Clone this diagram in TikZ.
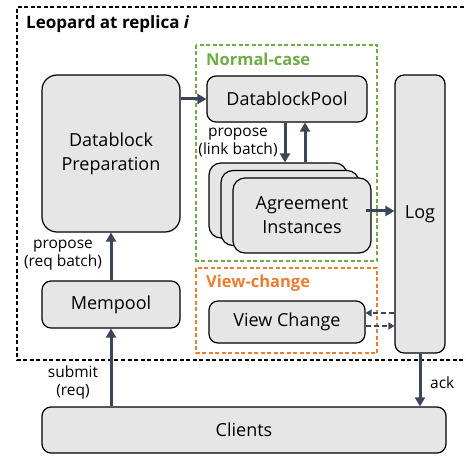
\documentclass[tikz,border=0pt]{standalone}
\usepackage{fontspec}
\setmainfont{Open Sans}
\setsansfont{Open Sans}
\usetikzlibrary{arrows.meta,calc}
\definecolor{boxfill}{HTML}{E6E6E6}
\definecolor{arr}{HTML}{3A4558}
\definecolor{grn}{HTML}{70AD47}
\definecolor{org}{HTML}{ED7D31}
\begin{document}
\begin{tikzpicture}[x=1pt,y=-1pt,
  box/.style={draw=black,line width=1.2pt,fill=boxfill,rounded corners=9pt,inner sep=0pt,align=center,font=\fontsize{18}{24}\selectfont},
  flow/.style={draw=arr,line width=3pt,-{Triangle[length=9pt,width=10pt]}},
  dflow/.style={draw=arr,line width=2pt,dashed,dash pattern=on 5pt off 3pt,-{Triangle[length=6pt,width=7pt]}},
  lbl/.style={font=\fontsize{15.5}{18}\selectfont,align=center,inner sep=0pt},
  grp/.style={line width=1.3pt,dash pattern=on 4pt off 2.5pt}]
\useasboundingbox (0,0) rectangle (466,457);
% outer dashed region
\draw[line width=1.3pt,dash pattern=on 4pt off 2.5pt] (470,7) -- (17,7) -- (17,360) -- (470,360);
\node[anchor=west,inner sep=0pt,font=\fontsize{17}{20}\selectfont\bfseries] (title) at (26,24) {Leopard at replica \textit{i}};
% groups
\draw[grp,draw=grn] (196,45) rectangle (377,261);
\node[anchor=west,inner sep=0pt,text=grn,font=\fontsize{16.5}{19}\selectfont\bfseries] (nclbl) at (206,59) {Normal-case};
\draw[grp,draw=org] (196,268) rectangle (377,353);
\node[anchor=west,inner sep=0pt,text=org,font=\fontsize{16.5}{19}\selectfont\bfseries] (vclbl) at (206,283) {View-change};
% boxes
\node[box,rounded corners=15pt,minimum width=138pt,minimum height=157pt] (prep) at (111,153.5) {Datablock\\Preparation};
\node[box,minimum width=160pt,minimum height=46pt] (pool) at (287,99) {DatablockPool};
\node[box,rounded corners=12pt,minimum width=138pt,minimum height=75pt] (ag1) at (278,200.5) {};
\node[box,rounded corners=12pt,minimum width=138pt,minimum height=75pt] (ag2) at (290,208) {};
\node[box,rounded corners=12pt,minimum width=138pt,minimum height=75pt] (ag3) at (302,215.5) {Agreement\\Instances};
\node[box,minimum width=50pt,minimum height=278pt] (log) at (420,214) {Log};
\node[box,minimum width=156pt,minimum height=42pt] (vc) at (287,322) {View Change};
\node[box,minimum width=138pt,minimum height=47pt] (mempool) at (111,304.5) {Mempool};
\node[box,minimum width=404pt,minimum height=46pt] (clients) at (244,430) {Clients};
% arrows
\draw[flow] (prep.east |- pool.west) -- (pool.west);
\draw[flow] ([xshift=-2pt]pool.south) -- ([xshift=-2pt]pool.south |- ag1.north);
\draw[flow] ([xshift=18pt]pool.south |- ag1.north) -- ([xshift=18pt]pool.south);
\draw[flow] ([xshift=-6pt,yshift=4.5pt]ag3.east) -- ([yshift=4.5pt]ag3.east -| log.west);
\draw[dflow] ([yshift=-4pt]vc.east) -- ([yshift=-4pt]vc.east -| log.west);
\draw[dflow] ([yshift=9pt]vc.east -| log.west) -- ([yshift=9pt]vc.east);
\draw[flow] (mempool.north) -- (prep.south);
\draw[flow] (clients.north -| mempool.south) -- (mempool.south);
\draw[flow] (log.south) -- (log.south |- clients.north);
% labels
\node[lbl] (l1) at (238,143) {propose\\(link batch)};
\node[lbl] (l2) at (63,255) {propose\\(req batch)};
\node[lbl] (l3) at (73,382) {submit\\(req)};
\node[lbl,anchor=west] (l4) at (430,383) {ack};
\end{tikzpicture}
\end{document}
